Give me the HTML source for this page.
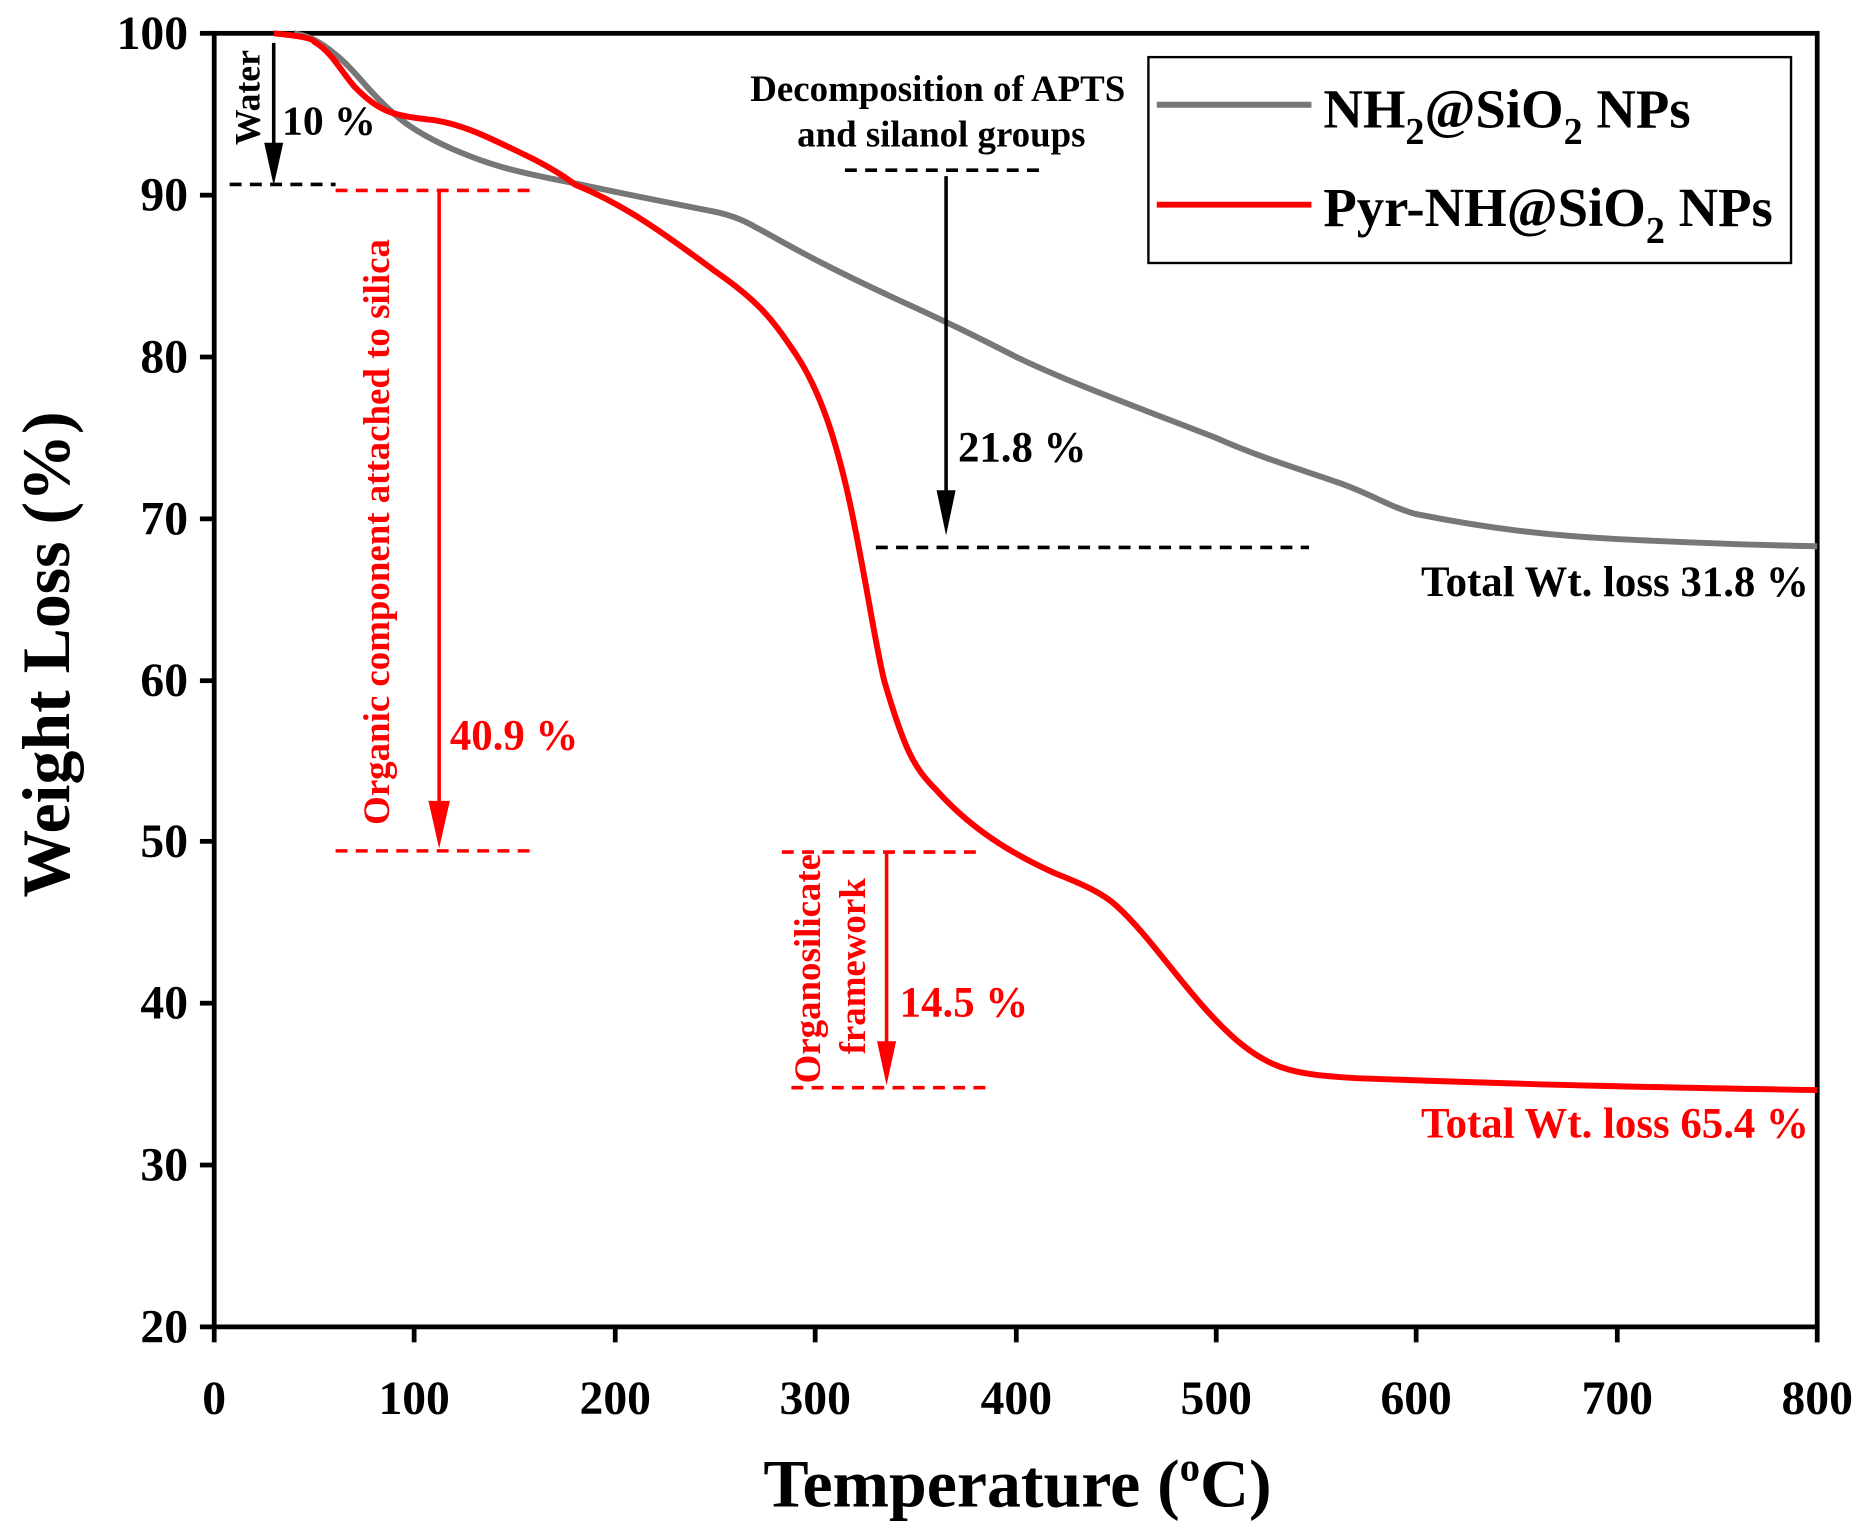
<!DOCTYPE html>
<html><head><meta charset="utf-8"><style>html,body{margin:0;padding:0;background:#fff}svg{display:block}text{font-family:"Liberation Serif",serif;font-weight:bold}</style></head>
<body>
<svg width="1866" height="1528" viewBox="0 0 1568 1284" preserveAspectRatio="none" xmlns="http://www.w3.org/2000/svg">
<!-- axes -->
<rect x="180" y="28" width="1347" height="1087" fill="none" stroke="#000" stroke-width="4"/>
<g stroke="#000" stroke-width="4">
<line x1="168" y1="28" x2="180" y2="28"/><line x1="168" y1="164" x2="180" y2="164"/><line x1="168" y1="300" x2="180" y2="300"/><line x1="168" y1="436" x2="180" y2="436"/><line x1="168" y1="572" x2="180" y2="572"/><line x1="168" y1="707" x2="180" y2="707"/><line x1="168" y1="843" x2="180" y2="843"/><line x1="168" y1="979" x2="180" y2="979"/><line x1="168" y1="1115" x2="180" y2="1115"/>
<line x1="180" y1="1115" x2="180" y2="1128"/><line x1="348" y1="1115" x2="348" y2="1128"/><line x1="517" y1="1115" x2="517" y2="1128"/><line x1="685" y1="1115" x2="685" y2="1128"/><line x1="854" y1="1115" x2="854" y2="1128"/><line x1="1022" y1="1115" x2="1022" y2="1128"/><line x1="1190" y1="1115" x2="1190" y2="1128"/><line x1="1359" y1="1115" x2="1359" y2="1128"/><line x1="1527" y1="1115" x2="1527" y2="1128"/>
</g>
<g font-size="40" text-anchor="end">
<text x="158" y="41">100</text><text x="158" y="177">90</text><text x="158" y="313">80</text><text x="158" y="449">70</text><text x="158" y="585">60</text><text x="158" y="720">50</text><text x="158" y="856">40</text><text x="158" y="992">30</text><text x="158" y="1128">20</text>
</g>
<g font-size="40" text-anchor="middle">
<text x="180" y="1188">0</text><text x="348" y="1188">100</text><text x="517" y="1188">200</text><text x="685" y="1188">300</text><text x="854" y="1188">400</text><text x="1022" y="1188">500</text><text x="1190" y="1188">600</text><text x="1359" y="1188">700</text><text x="1527" y="1188">800</text>
</g>
<text x="855" y="1266" font-size="57" text-anchor="middle">Temperature (<tspan font-size="34" dy="-22">o</tspan><tspan dy="22">C)</tspan></text>
<text transform="translate(58,550) rotate(-90)" font-size="57" text-anchor="middle">Weight Loss (%)</text>
<!-- curves -->
<path fill="none" stroke="#777" stroke-width="5" d="M247,28 C260,30 270,36 281,45 C295,56 305,70 314,79 C330,96 345,110 382,126 C410,138 430,144 483,154 C510,160 540,166 601,178 C615,181 625,185 635,191 C660,204 680,218 770,259 C800,273 815,280 854,300 C900,322 950,340 1022,368 C1060,385 1095,395 1123,405 C1150,414 1170,427 1190,432 C1250,444 1300,450 1359,453 C1420,456 1470,458 1527,459"/>
<path fill="none" stroke="#f00" stroke-width="5" d="M230,28 C250,30 262,32 264,35 C280,45 285,58 298,73 C320,95 330,97 365,101 C390,105 410,115 449,134 C470,145 478,151 483,155 C520,170 550,190 601,228 C640,255 650,270 669,298 C690,330 702,370 712,413 C725,470 735,540 743,572 C760,630 768,645 786,663 C810,690 840,713 887,734 C915,745 928,752 938,761 C970,790 1000,840 1039,874 C1070,900 1090,903 1140,906 C1300,912 1400,914 1527,916"/>
<!-- water -->
<line x1="230" y1="36" x2="230" y2="125" stroke="#000" stroke-width="3"/>
<path d="M222,120 L238,120 L230,156 z" fill="#000"/>
<line x1="193" y1="155" x2="282" y2="155" stroke="#000" stroke-width="3" stroke-dasharray="10,7"/>
<text transform="translate(218,82) rotate(-90)" font-size="30" text-anchor="middle">Water</text>
<text x="237" y="113" font-size="35">10 %</text>
<!-- organic -->
<line x1="282" y1="160" x2="447" y2="160" stroke="#f00" stroke-width="3" stroke-dasharray="10,7"/>
<line x1="282" y1="715" x2="447" y2="715" stroke="#f00" stroke-width="3" stroke-dasharray="10,7"/>
<line x1="369" y1="160" x2="369" y2="690" stroke="#f00" stroke-width="3"/>
<path d="M360,673 L378,673 L369,713 z" fill="#f00"/>
<text transform="translate(327,447) rotate(-90)" font-size="31" fill="#f00" text-anchor="middle">Organic component attached to silica</text>
<text x="378" y="630" font-size="36" fill="#f00">40.9 %</text>
<!-- organosilicate -->
<line x1="657" y1="716" x2="822" y2="716" stroke="#f00" stroke-width="3" stroke-dasharray="10,7"/>
<line x1="665" y1="914" x2="830" y2="914" stroke="#f00" stroke-width="3" stroke-dasharray="10,7"/>
<line x1="745" y1="716" x2="745" y2="890" stroke="#f00" stroke-width="3"/>
<path d="M737,875 L753,875 L745,912 z" fill="#f00"/>
<text transform="translate(689,814) rotate(-90)" font-size="31" fill="#f00" text-anchor="middle">Organosilicate</text>
<text transform="translate(727,812) rotate(-90)" font-size="31" fill="#f00" text-anchor="middle">framework</text>
<text x="756" y="854" font-size="36" fill="#f00">14.5 %</text>
<!-- APTS -->
<text x="788" y="85" font-size="31" text-anchor="middle">Decomposition of APTS</text>
<text x="791" y="123" font-size="31" text-anchor="middle">and silanol groups</text>
<line x1="710" y1="143" x2="876" y2="143" stroke="#000" stroke-width="3" stroke-dasharray="10,7"/>
<line x1="795" y1="148" x2="795" y2="425" stroke="#000" stroke-width="3"/>
<path d="M787,412 L803,412 L795,450 z" fill="#000"/>
<text x="805" y="388" font-size="36">21.8 %</text>
<line x1="736" y1="460" x2="1100" y2="460" stroke="#000" stroke-width="3" stroke-dasharray="10,7"/>
<text x="1520" y="501" font-size="36" text-anchor="end">Total Wt. loss 31.8 %</text>
<text x="1520" y="956" font-size="36" fill="#f00" text-anchor="end">Total Wt. loss 65.4 %</text>
<!-- legend -->
<rect x="965" y="48" width="540" height="173" fill="#fff" stroke="#000" stroke-width="2"/>
<line x1="972" y1="88" x2="1102" y2="88" stroke="#777" stroke-width="5"/>
<line x1="972" y1="172" x2="1102" y2="172" stroke="#f00" stroke-width="5"/>
<text x="1112" y="107" font-size="46">NH<tspan font-size="32" dy="14">2</tspan><tspan dy="-14">@SiO</tspan><tspan font-size="32" dy="14">2</tspan><tspan dy="-14"> NPs</tspan></text>
<text x="1112" y="190" font-size="46">Pyr-NH@SiO<tspan font-size="32" dy="14">2</tspan><tspan dy="-14"> NPs</tspan></text>
</svg>
</body></html>
